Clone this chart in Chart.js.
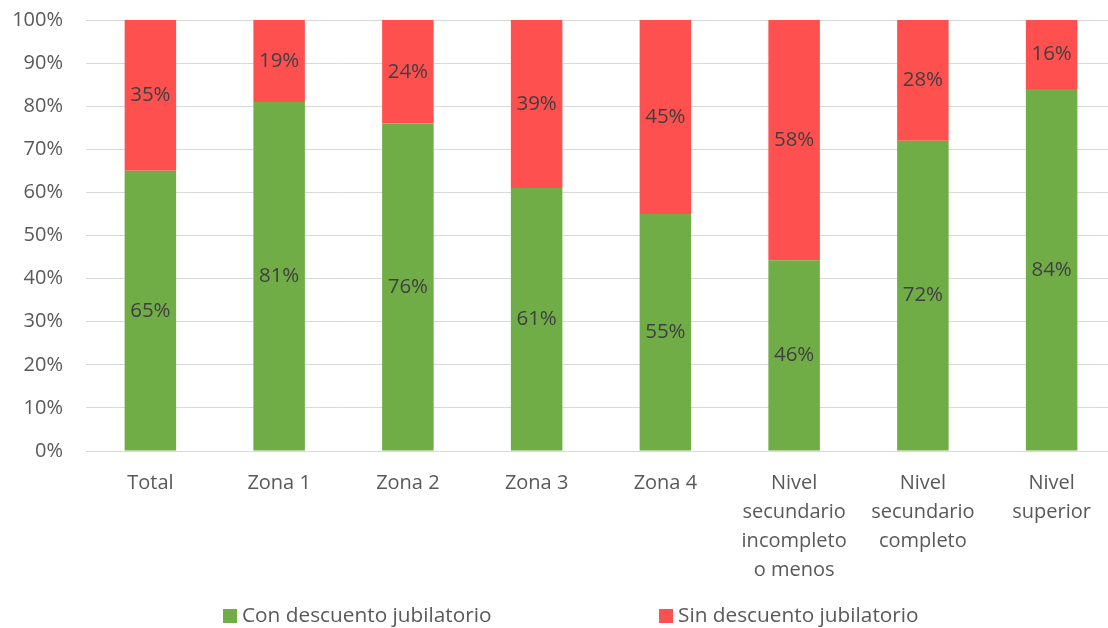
<!DOCTYPE html>
<html>
<head>
<meta charset="utf-8">
<script src="https://cdn.jsdelivr.net/npm/chart.js@4.4.1/dist/chart.umd.min.js"></script>
<style>
  html, body { margin: 0; padding: 0; background: #fff; overflow: hidden; }
  #wrap { width: 1120px; height: 628px; }
</style>
</head>
<body>
<div id="wrap"><canvas id="c" width="1120" height="628"></canvas></div>
<script>
const categories = [
  'Total', 'Zona 1', 'Zona 2', 'Zona 3', 'Zona 4',
  ['Nivel', 'secundario', 'incompleto', 'o menos'],
  ['Nivel', 'secundario', 'completo'],
  ['Nivel', 'superior']
];
const conDescuento = [65, 81, 76, 61, 55, 46, 72, 84];
const sinDescuento = [35, 19, 24, 39, 45, 58, 28, 16];
const seriesNames = ['Con descuento jubilatorio', 'Sin descuento jubilatorio'];
const yTicks = [0, 10, 20, 30, 40, 50, 60, 70, 80, 90, 100];

const totals = conDescuento.map((v, i) => v + sinDescuento[i]);
const share = arr => arr.map((v, i) => v / totals[i] * 100);

const FONT = '"Open Sans", Lato, sans-serif';
const GREEN = '#70AD47';
const RED = '#FF5050';

const labelPlugin = {
  id: 'segLabels',
  afterDatasetsDraw(chart) {
    const ctx = chart.ctx;
    ctx.save();
    ctx.font = '20.5px ' + FONT;
    ctx.fillStyle = '#404040';
    ctx.textAlign = 'center';
    ctx.textBaseline = 'middle';
    chart.data.datasets.forEach((ds, di) => {
      const meta = chart.getDatasetMeta(di);
      meta.data.forEach((bar, i) => {
        const p = bar.getProps(['x', 'y', 'base'], true);
        ctx.fillText(ds.raw[i] + '%', p.x, (p.y + p.base) / 2);
      });
    });
    ctx.restore();
  }
};

const legendPlugin = {
  id: 'customLegend',
  afterDraw(chart) {
    const ctx = chart.ctx;
    const items = [
      { x: 223, color: GREEN, text: seriesNames[0] },
      { x: 659, color: RED, text: seriesNames[1] }
    ];
    ctx.save();
    ctx.font = '20.8px ' + FONT;
    ctx.textBaseline = 'middle';
    ctx.textAlign = 'left';
    items.forEach(it => {
      ctx.fillStyle = it.color;
      ctx.fillRect(it.x, 609, 14, 14);
      ctx.fillStyle = '#595959';
      ctx.fillText(it.text, it.x + 19, 616);
    });
    ctx.restore();
  }
};

new Chart(document.getElementById('c'), {
  type: 'bar',
  data: {
    labels: categories,
    datasets: [
      { label: seriesNames[0], data: share(conDescuento), raw: conDescuento, backgroundColor: GREEN,
        barPercentage: 0.4, categoryPercentage: 1.0 },
      { label: seriesNames[1], data: share(sinDescuento), raw: sinDescuento, backgroundColor: RED,
        barPercentage: 0.4, categoryPercentage: 1.0 }
    ]
  },
  options: {
    responsive: false,
    animation: false,
    layout: { padding: { top: 20, right: 4, bottom: 0, left: 0 } },
    plugins: {
      legend: { display: false },
      tooltip: { enabled: false }
    },
    scales: {
      x: {
        stacked: true,
        grid: { display: false, drawTicks: false },
        border: { display: false },
        ticks: {
          color: '#595959',
          font: { family: FONT, size: 20, lineHeight: 1.44 },
          padding: 18,
          maxRotation: 0,
          autoSkip: false
        },
        afterFit(s) { s.height = 177; s.paddingLeft = 0; s.paddingRight = 0; s.paddingTop = 0; s.paddingBottom = 0; }
      },
      y: {
        stacked: true,
        min: 0,
        max: 100,
        grid: { color: '#D9D9D9', lineWidth: 1, drawTicks: false },
        border: { display: false },
        afterBuildTicks(s) { s.ticks = yTicks.map(v => ({ value: v })); },
        ticks: {
          color: '#595959',
          font: { family: FONT, size: 20 },
          padding: 23,
          callback: v => v + '%'
        },
        afterFit(s) { s.width = 86; s.paddingTop = 0; s.paddingBottom = 0; s.paddingLeft = 0; s.paddingRight = 0; }
      }
    }
  },
  plugins: [labelPlugin, legendPlugin]
});
</script>
</body>
</html>
